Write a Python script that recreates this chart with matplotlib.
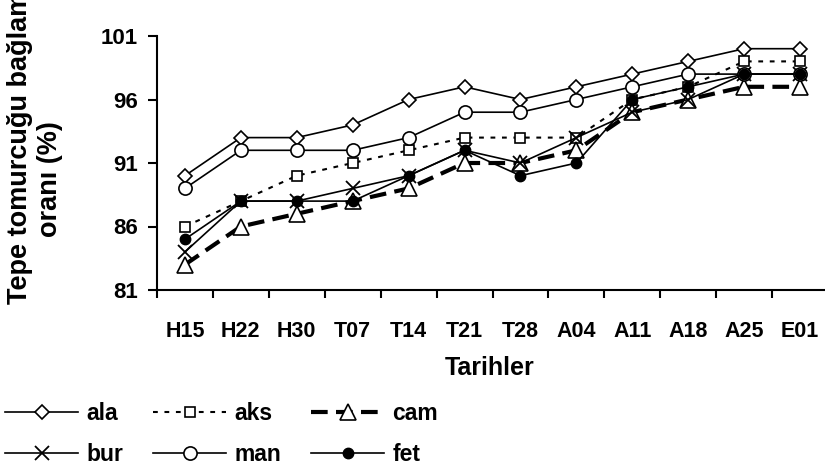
import matplotlib
matplotlib.use('Agg')
import matplotlib.pyplot as plt
import numpy as np

plt.rcParams['font.family'] = ['Liberation Sans', 'DejaVu Sans']
plt.rcParams['font.weight'] = 'bold'

dates = ['H15', 'H22', 'H30', 'T07', 'T14', 'T21', 'T28', 'A04', 'A11', 'A18', 'A25', 'E01']
ala = [90, 93, 93, 94, 96, 97, 96, 97, 98, 99, 100, 100]
aks = [86, 88, 90, 91, 92, 93, 93, 93, 96, 97, 99, 99]
cam = [83, 86, 87, 88, 89, 91, 91, 92, 95, 96, 97, 97]
bur = [84, 88, 88, 89, 90, 92, 91, 93, 95, 96, 98, 98]
man = [89, 92, 92, 92, 93, 95, 95, 96, 97, 98, 98, 98]
fet = [85, 88, 88, 88, 90, 92, 90, 91, 96, 97, 98, 98]
y_ticks = [81, 86, 91, 96, 101]

fig = plt.figure(figsize=(8.25, 4.68), dpi=100)
ax = fig.add_axes([157/825, 1 - 290/468, (828 - 157)/825, (290 - 36)/468])

x = np.arange(len(dates))

h_ala, = ax.plot(x, ala, color='black', lw=1.2, marker='D', ms=7.5,
                 mfc='white', mec='black', mew=1.2, label='ala')
h_aks, = ax.plot(x, aks, color='black', lw=1.5, dashes=(2.3, 3.2), marker='s', ms=6.5,
                 mfc='white', mec='black', mew=1.2, label='aks')
h_cam, = ax.plot(x, cam, color='black', lw=3, dashes=(4, 2), marker='^', ms=11,
                 mfc='white', mec='black', mew=1.2, label='cam')
h_bur, = ax.plot(x, bur, color='black', lw=1.2, marker='x', ms=10,
                 mec='black', mew=1.3, label='bur')
h_man, = ax.plot(x, man, color='black', lw=1.2, marker='o', ms=9.5,
                 mfc='white', mec='black', mew=1.2, label='man')
h_fet, = ax.plot(x, fet, color='black', lw=1.2, marker='o', ms=7.5,
                 mfc='black', mec='black', label='fet')

ax.set_xlim(-0.5, len(dates) - 0.5)
ax.set_ylim(81, 101)
ax.set_yticks(y_ticks)
ax.set_xticks(x)
ax.set_xticklabels(dates)
ax.set_xticks(np.arange(-0.5, len(dates)), minor=True)
ax.tick_params(axis='x', which='major', length=0, pad=22, labelsize=15.5)
ax.tick_params(axis='x', which='minor', length=6, width=1.5, direction='out')
ax.tick_params(axis='y', length=6.5, width=1.5, direction='out', pad=7, labelsize=16)

for s in ['top', 'right']:
    ax.spines[s].set_visible(False)
for s in ['left', 'bottom']:
    ax.spines[s].set_linewidth(1.5)

fig.text(490/825, 1 - 368/468, 'Tarihler', ha='center', va='center', fontsize=18, fontweight='bold')
fig.text(20/825, 1 - 140/468, 'Tepe tomurcuğu bağlama', rotation=90, ha='center', va='center',
         fontsize=19.5, fontweight='bold')
fig.text(50/825, 1 - 179/468, 'oranı (%)', rotation=90, ha='center', va='center',
         fontsize=19.5, fontweight='bold')

handles = [h_ala, h_bur, h_aks, h_man, h_cam, h_fet]
fig.legend(handles, [h.get_label() for h in handles], ncol=3, frameon=False,
           loc='upper left', bbox_to_anchor=(5/825, 1 - 402/468),
           prop={'size': 16.5, 'weight': 'bold'}, handlelength=3.2, handletextpad=0.35,
           columnspacing=1.3, labelspacing=0.8, borderpad=0, borderaxespad=0)

fig.savefig('out.png', dpi=100)
